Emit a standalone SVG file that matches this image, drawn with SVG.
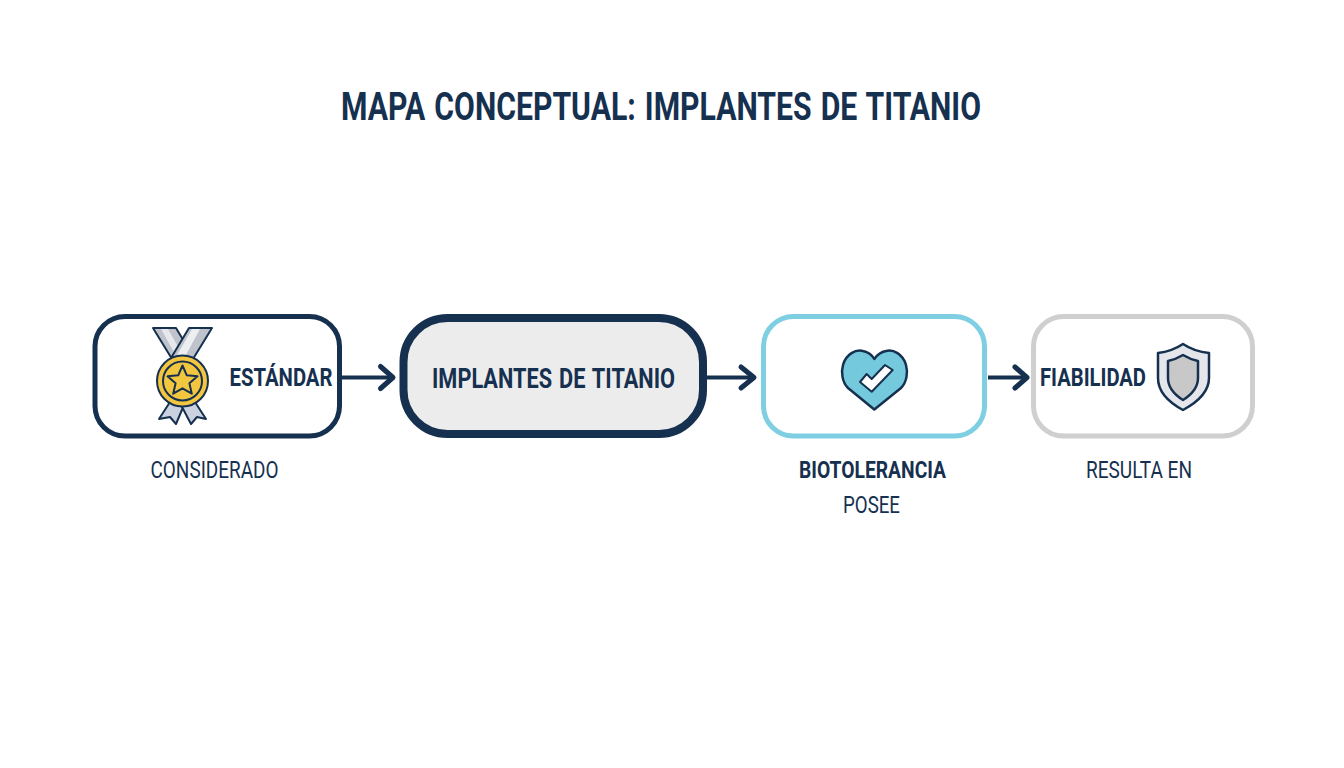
<svg xmlns="http://www.w3.org/2000/svg" width="1344" height="768" viewBox="0 0 1344 768">
<style>
text{font-family:"Roboto","Liberation Sans",sans-serif;fill:#16304f;text-anchor:middle}
.b{font-weight:700}
.l{font-size:24px;font-weight:400}
.box{fill:#fff;stroke-width:5}
.ln{stroke:#16304f;stroke-width:4;fill:none}
.hd{stroke:#16304f;stroke-width:5;fill:none;stroke-linecap:round;stroke-linejoin:round}
.ic{stroke:#16304f;stroke-width:2;stroke-linejoin:round}
</style>
<rect width="1344" height="768" fill="#fff"/>
<text class="b" x="661" y="119.500" font-size="38.500" word-spacing="2" textLength="640" lengthAdjust="spacingAndGlyphs">MAPA CONCEPTUAL: IMPLANTES DE TITANIO</text>
<g id="connectors">
<path class="ln" d="M342 377.500H392"/><path class="hd" d="M380.500 366.500L393 377.500L380.500 388.500"/>
<path class="ln" d="M707 377.500H752"/><path class="hd" d="M741 367L754 377.500L741 388"/>
<path class="ln" d="M988 377.500H1025"/><path class="hd" d="M1015 367L1027 377.500L1015 388"/>
</g>
<g id="node-estandar">
<rect class="box" x="95" y="316.500" width="244.500" height="119.500" rx="30" stroke="#16304f"/>
<path class="ic" fill="#bfc4cc" d="M153 328H176L200 368L180 372Z"/>
<path fill="#e6e8ec" d="M161 329H168L189 366L183 368Z"/>
<path class="ic" fill="#bfc4cc" d="M212 328H189L165 368L185 372Z"/>
<path fill="#eceef1" d="M200 329H192L173 362L180 366Z"/>
<path class="ic" fill="#c9d2de" d="M170 402L159 419L170 417L176 424L184 405Z"/>
<path class="ic" fill="#c9d2de" d="M195 402L206 419L197 417L191 424L181 405Z"/>
<circle class="ic" cx="182.500" cy="381" r="25.500" fill="#f3c63f"/>
<circle class="ic" cx="182.500" cy="381" r="19.500" fill="#f3c63f"/>
<path class="ic" fill="#f3c63f" d="M182.500 365.500L186.800 375.300L197.500 376.300L189.400 383.300L191.800 393.700L182.500 388.300L173.200 393.700L175.600 383.300L167.500 376.300L178.200 375.300Z"/>
<text class="b" x="281" y="386" font-size="26.500" textLength="103" lengthAdjust="spacingAndGlyphs">ESTÁNDAR</text>
</g>
<g id="node-implantes">
<rect x="403.500" y="318" width="299.500" height="116" rx="44" fill="#ececec" stroke="#16304f" stroke-width="8"/>
<text class="b" x="553.500" y="388" font-size="27" word-spacing="2" textLength="243" lengthAdjust="spacingAndGlyphs">IMPLANTES DE TITANIO</text>
</g>
<g id="node-biotolerancia">
<rect class="box" x="763.500" y="316.500" width="221" height="119.500" rx="30" stroke="#7fcfe3"/>
<path fill="#74c9dc" stroke="#16304f" stroke-width="2.500" stroke-linejoin="round" d="M874.300 409.500L848 388C842 382 841 372 843 365C846 354 856 349 863 351C868 352 872 355 874.300 359C877 355 881 352 886 351C893 349 903 354 906 365C908 372 907 382 901 388Z"/>
<path fill="#fff" stroke="#16304f" stroke-width="2" stroke-linejoin="round" d="M860 382L866.700 374L871.700 379L885 365L892.700 370L871.700 391.700Z"/>
<text class="b" x="872.500" y="478" font-size="24" textLength="147" lengthAdjust="spacingAndGlyphs">BIOTOLERANCIA</text>
<text class="l" x="871.500" y="513" textLength="57" lengthAdjust="spacingAndGlyphs">POSEE</text>
</g>
<g id="node-fiabilidad">
<rect class="box" x="1033.500" y="316.500" width="219" height="119.500" rx="30" stroke="#cfcfcf"/>
<path fill="#e4e6ec" stroke="#16304f" stroke-width="2.500" stroke-linejoin="round" d="M1183 344C1174 350 1167 352 1158 353V378C1158 392 1170 403 1183 410C1196 403 1209 392 1209 378V353C1199 352 1192 350 1183 344Z"/>
<path fill="#c8c8c8" stroke="#16304f" stroke-width="2.500" stroke-linejoin="round" d="M1183 355C1178 358 1173 360 1168 361V378C1168 387 1175 395 1183 400C1191 395 1198 387 1198 378V361C1193 360 1188 358 1183 355Z"/>
<text class="b" x="1093" y="386" font-size="26.500" textLength="106" lengthAdjust="spacingAndGlyphs">FIABILIDAD</text>
</g>
<text class="l" x="214.500" y="478" textLength="128" lengthAdjust="spacingAndGlyphs">CONSIDERADO</text>
<text class="l" x="1139" y="478" textLength="106" lengthAdjust="spacingAndGlyphs">RESULTA EN</text>
</svg>
